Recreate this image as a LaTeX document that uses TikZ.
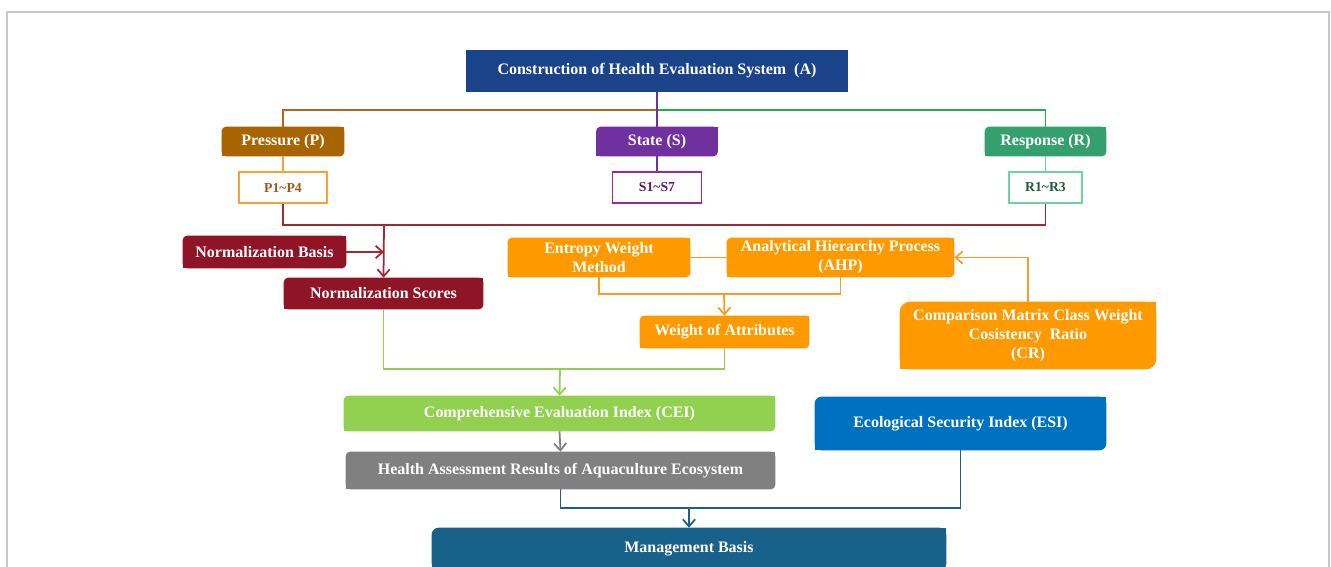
\documentclass[tikz,border=0pt]{standalone}
\usepackage{fontspec}
\setmainfont{Liberation Serif}
\usetikzlibrary{arrows.meta, backgrounds}

\definecolor{framegray}{HTML}{C8C8C8}
\definecolor{topblue}{HTML}{1A438A}
\definecolor{pressbrown}{HTML}{A86400}
\definecolor{statepurple}{HTML}{7030A0}
\definecolor{respgreen}{HTML}{34A06E}
\definecolor{pline}{HTML}{B5651D}
\definecolor{rline}{HTML}{1DB04A}
\definecolor{plight}{HTML}{F9A03A}
\definecolor{ptext}{HTML}{A0571E}
\definecolor{sborder}{HTML}{982A93}
\definecolor{stext}{HTML}{5A1866}
\definecolor{rborder}{HTML}{6CD3A2}
\definecolor{rtext}{HTML}{1E5C40}
\definecolor{maroon}{HTML}{8E1426}
\definecolor{redline}{HTML}{9E2A35}
\definecolor{ahporange}{HTML}{FF9900}
\definecolor{oline}{HTML}{F99B2A}
\definecolor{ceigreen}{HTML}{92D050}
\definecolor{resgray}{HTML}{808080}
\definecolor{esiblue}{HTML}{0070C0}
\definecolor{bline}{HTML}{1F5F8F}
\definecolor{mbblue}{HTML}{17618A}

% fill behind a node, round top-left and bottom-right corners
\newcommand{\diagfill}[3][2.5pt]{%
  \fill[#3, rounded corners=#1] (#2.south west) rectangle (#2.north east);
  \fill[#3] (#2.south west) rectangle ++(#1,#1);
  \fill[#3] (#2.north east) rectangle ++(-#1,-#1);
}

\tikzset{
  box/.style={text=white, font=\fontsize{9.1}{10.8}\selectfont\bfseries,
    align=center, inner sep=0pt},
  itembox/.style={fill=white, line width=1.1pt, inner sep=0pt,
    font=\fontsize{7.8}{9}\selectfont\bfseries},
  link/.style={line width=1pt},
  arr/.style={link, -{Straight Barb[length=4pt, width=7pt]}}
}

\begin{document}
\begin{tikzpicture}[x=0.02cm, y=-0.02cm]

  \useasboundingbox (0,0) rectangle (1331,567);
  \clip (0,0) rectangle (1331,567);

  % Outer frame
  \draw[framegray, line width=0.8pt] (7,600) -- (7,12) -- (1329,12) -- (1329,600);

  % Health evaluation system
  \node[box, minimum width=7.64cm, minimum height=0.84cm] (A) at (657,71)
    {Construction of Health Evaluation System\enspace(A)};

  % PSR boxes
  \node[box, minimum width=2.44cm, minimum height=0.58cm] (P) at (283,141.5) {Pressure (P)};
  \node[box, minimum width=2.42cm, minimum height=0.58cm] (S) at (657,141.5) {State (S)};
  \node[box, minimum width=2.42cm, minimum height=0.58cm] (R) at (1045.5,141.5) {Response (R)};

  \node[itembox, draw=plight, text=ptext, minimum width=1.76cm, minimum height=0.62cm]
    (P1) at (283,187.5) {P1\textasciitilde P4};
  \node[itembox, draw=sborder, text=stext, minimum width=1.78cm, minimum height=0.62cm]
    (S1) at (657,187.5) {S1\textasciitilde S7};
  \node[itembox, draw=rborder, text=rtext, minimum width=1.46cm, minimum height=0.62cm]
    (R1) at (1045.5,187.5) {R1\textasciitilde R3};

  % Normalization
  \node[box, minimum width=3.26cm, minimum height=0.64cm] (NB) at (264.5,252) {Normalization Basis};
  \node[box, minimum width=3.98cm, minimum height=0.62cm] (NS) at (383.5,293.5) {Normalization Scores};

  % Weights
  \node[box, minimum width=3.64cm, minimum height=0.78cm] (EW) at (599,257.5) {Entropy Weight\\Method};
  \node[box, minimum width=4.54cm, minimum height=0.78cm] (AHP) at (840.5,257.5)
    {Analytical Hierarchy Process\\(AHP)};
  \node[box, minimum width=3.38cm, minimum height=0.64cm] (WA) at (724.5,332) {Weight of Attributes};
  \node[box, minimum width=5.12cm, minimum height=1.34cm] (CM) at (1028,335.5)
    {Comparison Matrix Class Weight\\Cosistency\enspace Ratio\\(CR)};

  % Results
  \node[box, minimum width=8.62cm, minimum height=0.70cm] (CEI) at (559.5,413.5)
    {Comprehensive Evaluation Index (CEI)};
  \node[box, minimum width=8.58cm, minimum height=0.74cm] (HA) at (560.5,470.5)
    {Health Assessment Results of Aquaculture Ecosystem};
  \node[box, minimum width=5.82cm, minimum height=1.06cm] (ESI) at (960.5,423.5)
    {Ecological Security Index (ESI)};
  \node[box, minimum width=10.28cm, minimum height=0.84cm] (MB) at (689,549) {Management Basis};

  % Box fills
  \begin{scope}[on background layer]
    \fill[topblue] (A.south west) rectangle (A.north east);
    \diagfill{P}{pressbrown}
    \diagfill{S}{statepurple}
    \diagfill{R}{respgreen}
    \diagfill{NB}{maroon}
    \diagfill{NS}{maroon}
    \diagfill{EW}{ahporange}
    \diagfill{AHP}{ahporange}
    \diagfill{WA}{ahporange}
    \diagfill[6pt]{CM}{ahporange}
    \diagfill{CEI}{ceigreen}
    \diagfill{HA}{resgray}
    \diagfill[4pt]{ESI}{esiblue}
    \diagfill[4pt]{MB}{mbblue}
  \end{scope}

  % Connectors from the top
  \coordinate (split) at (657,110);
  \draw[link, pline] (split) -| (P.north);
  \draw[link, rline] (split) -| (R.north);
  \draw[link, statepurple] (A.south) -- (S.north);
  \draw[link, plight] (P.south) -- (P1.north);
  \draw[link, statepurple] (S.south) -- (S1.north);
  \draw[link, rborder] (R.south) -- (R1.north);

  % Normalization links
  \coordinate (redbar) at (384,225);
  \draw[link, redline] (P1.south) |- (redbar) -| (R1.south);
  \draw[arr, redline] (redbar) -- (NS.north);
  \draw[arr, redline] (NB.east) -- (NB.east -| redbar);

  % Weight links
  \coordinate (obar) at (724,294);
  \draw[link, oline] (EW.east) -- (AHP.west);
  \draw[link, oline] (EW.south) |- (obar) -| (AHP.south);
  \draw[arr, oline] (obar) -- (WA.north);
  \draw[arr, oline] (CM.north) |- (AHP.east);

  % Evaluation links
  \coordinate (gbar) at (560,369);
  \draw[link, ceigreen] (NS.south) |- (gbar) -| (WA.south);
  \draw[arr, ceigreen] (gbar) -- (CEI.north);
  \draw[arr, resgray] (CEI.south) -- (HA.north);

  \coordinate (bbar) at (689,508);
  \draw[link, bline] (HA.south) |- (bbar) -| (ESI.south);
  \draw[arr, bline] (bbar) -- (MB.north);

\end{tikzpicture}
\end{document}
